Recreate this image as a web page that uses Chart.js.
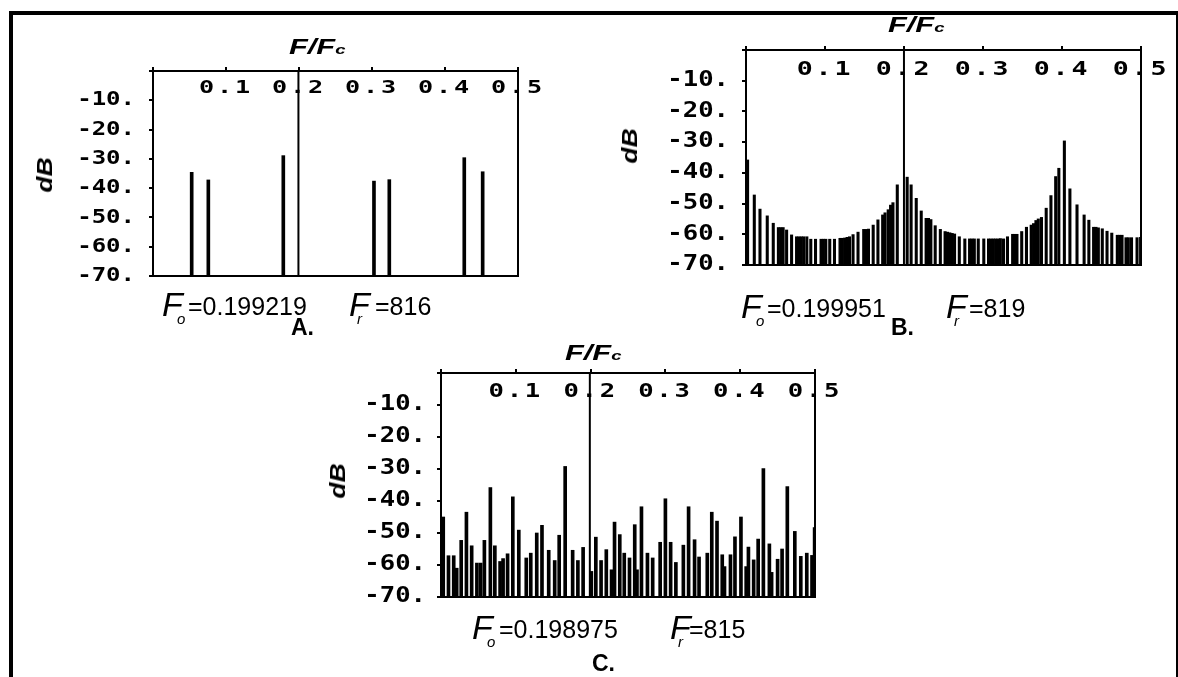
<!DOCTYPE html>
<html>
<head>
<meta charset="utf-8">
<script src="https://cdn.jsdelivr.net/npm/chart.js@4.4.1/dist/chart.umd.min.js"></script>
<style>
  body { margin: 0; background: #fff; }
  #page { position: relative; width: 1178px; height: 677px; overflow: hidden; background: #fff; }
  #page canvas { position: absolute; left: 0; top: 0; }
  .outer { position: absolute; left: 9px; top: 11px; width: 1163px; height: 700px;
           border-left: 4px solid #000; border-top: 4px solid #000; border-right: 3px solid #000; }
  .lab { position: absolute; font-family: "Liberation Sans", Arial, sans-serif; line-height: 1;
         white-space: nowrap; color: #000; }
  .F { font-style: italic; font-size: 34px; }
  .sb { font-style: italic; font-size: 15px; }
  .eq { font-size: 25px; }
  .ttl { font-weight: bold; font-style: italic; transform: scaleX(1.4); transform-origin: 0 0; }
  .ttl span { font-size: 0.6em; }
  .db { font-weight: bold; font-style: italic; font-size: 22px;
        transform: translate(-50%, -50%) rotate(-90deg) scaleX(1.2); }
  .pl { font-weight: bold; font-size: 23px; }
</style>
</head>
<body>
<div id="page">
  <div class="outer"></div>
  <canvas id="cA" width="1178" height="677"></canvas>
  <canvas id="cB" width="1178" height="677"></canvas>
  <canvas id="cC" width="1178" height="677"></canvas>

  <div class="lab ttl" style="left:289px;top:36px;font-size:22px">F/F<span>c</span></div>
  <div class="lab ttl" style="left:888px;top:14px;font-size:22px">F/F<span>c</span></div>
  <div class="lab ttl" style="left:565px;top:342px;font-size:22px">F/F<span>c</span></div>

  <div class="lab db" style="left:45px;top:175px">dB</div>
  <div class="lab db" style="left:630px;top:146px">dB</div>
  <div class="lab db" style="left:338px;top:481px">dB</div>

  <div class="lab F" style="left:162px;top:287px">F</div>
  <div class="lab sb" style="left:177px;top:311px">o</div>
  <div class="lab eq" style="left:188px;top:294px">=0.199219</div>
  <div class="lab F" style="left:349px;top:287px">F</div>
  <div class="lab sb" style="left:357px;top:311px">r</div>
  <div class="lab eq" style="left:375px;top:294px">=816</div>
  <div class="lab pl" style="left:291px;top:316px">A.</div>

  <div class="lab F" style="left:741px;top:289px">F</div>
  <div class="lab sb" style="left:756px;top:313px">o</div>
  <div class="lab eq" style="left:767px;top:296px">=0.199951</div>
  <div class="lab F" style="left:946px;top:289px">F</div>
  <div class="lab sb" style="left:954px;top:313px">r</div>
  <div class="lab eq" style="left:969px;top:296px">=819</div>
  <div class="lab pl" style="left:891px;top:316px">B.</div>

  <div class="lab F" style="left:472px;top:610px">F</div>
  <div class="lab sb" style="left:487px;top:634px">o</div>
  <div class="lab eq" style="left:499px;top:617px">=0.198975</div>
  <div class="lab F" style="left:670px;top:610px">F</div>
  <div class="lab sb" style="left:678px;top:634px">r</div>
  <div class="lab eq" style="left:689px;top:617px">=815</div>
  <div class="lab pl" style="left:592px;top:652px">C.</div>
</div>

<script>
// tick labels
const xTickLabels = ["", "0.1", "0.2", "0.3", "0.4", "0.5"];
const yTickLabels = ["-70.", "-60.", "-50.", "-40.", "-30.", "-20.", "-10.", ""];

// A.  F0 = 0.199219
const foA = 0.199219;
const freqA = [0.053, 0.0758, 0.1785, 0.3027, 0.3237, 0.4264, 0.4516];
const dbA = [-34.6, -37.2, -28.9, -37.6, -37.1, -29.6, -34.4];

// B.  F0 = 0.199951
const foB = 0.199951;
const freqB = [0.002, 0.0105, 0.0177, 0.0269, 0.0345, 0.041, 0.044, 0.047, 0.0514, 0.0577,
  0.064, 0.067, 0.070, 0.073, 0.077, 0.082, 0.088, 0.095, 0.098, 0.101,
  0.106, 0.112, 0.119, 0.122, 0.125, 0.128, 0.131, 0.1355, 0.1418, 0.149,
  0.152, 0.155, 0.161, 0.167, 0.173, 0.176, 0.180, 0.183, 0.186, 0.1915,
  0.204, 0.209, 0.2155, 0.2218, 0.228, 0.231, 0.234, 0.2395, 0.246, 0.252,
  0.255, 0.258, 0.261, 0.264, 0.270, 0.277, 0.283, 0.286, 0.289, 0.294,
  0.301, 0.307, 0.310, 0.313, 0.316, 0.319, 0.322, 0.326, 0.331, 0.3375,
  0.340, 0.343, 0.349, 0.355, 0.361, 0.364, 0.367, 0.370, 0.374, 0.380,
  0.386, 0.392, 0.396, 0.403, 0.410, 0.419, 0.428, 0.434, 0.440, 0.443,
  0.446, 0.451, 0.457, 0.463, 0.470, 0.473, 0.476, 0.481, 0.484, 0.488,
  0.495, 0.4995];
const dbB = [-35.8, -47.2, -51.8, -54.0, -56.4, -57.8, -57.8, -57.8, -58.6, -60.2,
  -60.8, -60.8, -60.8, -60.8, -60.8, -61.6, -61.6, -61.6, -61.6, -61.6,
  -61.6, -61.6, -61.3, -61.3, -61.2, -61.0, -60.8, -60.1, -59.3, -58.4,
  -58.4, -58.3, -57.0, -55.3, -53.7, -53.0, -52.0, -50.5, -49.7, -43.9,
  -41.4, -43.9, -48.3, -52.4, -54.8, -54.8, -55.2, -57.2, -58.4, -59.1,
  -59.3, -59.5, -59.7, -59.9, -60.8, -61.5, -61.5, -61.5, -61.5, -61.5,
  -61.5, -61.5, -61.5, -61.5, -61.5, -61.5, -61.4, -61.5, -60.8, -60.0,
  -60.0, -60.0, -59.1, -57.7, -57.0, -56.5, -55.5, -55.0, -54.5, -51.5,
  -47.4, -41.2, -38.5, -29.6, -45.2, -50.4, -53.7, -55.4, -57.7, -57.7,
  -57.9, -58.2, -59.0, -59.6, -60.3, -60.3, -60.3, -61.1, -61.1, -61.1,
  -61.1, -61.0];

// C.  F0 = 0.198975
const foC = 0.198975;
const freqC = [0.003, 0.010, 0.017, 0.021, 0.027, 0.034, 0.041, 0.048, 0.053, 0.058,
  0.066, 0.072, 0.079, 0.083, 0.089, 0.096, 0.104, 0.114, 0.120, 0.128,
  0.135, 0.144, 0.152, 0.158, 0.166, 0.176, 0.183, 0.190, 0.201, 0.207,
  0.214, 0.221, 0.228, 0.232, 0.239, 0.245, 0.252, 0.259, 0.262, 0.268,
  0.276, 0.283, 0.293, 0.300, 0.307, 0.314, 0.324, 0.331, 0.339, 0.345,
  0.356, 0.362, 0.369, 0.376, 0.379, 0.387, 0.393, 0.401, 0.408, 0.411,
  0.418, 0.424, 0.431, 0.439, 0.442, 0.450, 0.456, 0.463, 0.473, 0.481,
  0.489, 0.496, 0.4995];
const dbC = [-45.0, -57.1, -57.1, -61.0, -52.3, -43.5, -54.0, -59.4, -59.4, -52.3,
  -35.8, -54.0, -58.9, -58.0, -56.5, -38.7, -49.1, -57.8, -56.3, -50.0,
  -47.6, -55.4, -58.6, -50.7, -29.2, -55.4, -58.6, -54.5, -62.0, -51.3,
  -58.6, -55.2, -61.5, -46.6, -50.5, -56.3, -57.8, -47.4, -61.5, -41.8,
  -56.3, -57.8, -52.9, -39.3, -52.9, -59.2, -53.8, -41.8, -52.1, -57.5,
  -56.3, -43.5, -46.3, -56.8, -60.5, -56.8, -51.2, -45.0, -60.5, -54.4,
  -58.4, -51.9, -29.9, -53.4, -62.3, -58.2, -55.0, -35.5, -49.5, -57.3,
  -56.3, -57.0, -48.3];

const DB_FLOOR = -70;
const PAGE_W = 1178, PAGE_H = 677;
const MONO = '"DejaVu Sans Mono", "Liberation Mono", monospace';

// frame + tick labels, placed with the chart's own scales
const axisText = {
  id: "axisText",
  afterDraw(chart, args, o) {
    const ctx = chart.ctx;
    const a = chart.chartArea;
    const xs = chart.scales.x, ys = chart.scales.y;
    ctx.save();
    ctx.strokeStyle = "#000";
    ctx.lineWidth = 2;
    ctx.strokeRect(a.left, a.top, a.right - a.left, a.bottom - a.top);

    ctx.fillStyle = "#000";
    ctx.textBaseline = "middle";
    ctx.font = "bold " + o.yFont + "px " + MONO;
    ctx.textAlign = "right";
    ys.ticks.forEach(t => {
      const s = yTickLabels[Math.round((t.value - DB_FLOOR) / 10)];
      if (!s) return;
      ctx.save();
      ctx.translate(a.left - o.yGap, ys.getPixelForValue(t.value));
      ctx.scale(o.ySx, 1);
      ctx.fillText(s, 0, 0);
      ctx.restore();
    });

    ctx.font = "bold " + o.xFont + "px " + MONO;
    ctx.textAlign = "left";
    const cell = ctx.measureText("0").width + o.xLs;
    ctx.letterSpacing = o.xLs + "px";
    xs.ticks.forEach(t => {
      const s = xTickLabels[Math.round(t.value * 10)];
      if (!s) return;
      ctx.save();
      ctx.translate(xs.getPixelForValue(t.value), a.top + o.xDy);
      ctx.scale(o.xSx, 1);
      ctx.fillText(s, -cell * s.length / 2, 0);
      ctx.restore();
    });
    ctx.restore();
  }
};

function makePanel(id, freq, db, fo, st) {
  const box = st.box;
  new Chart(document.getElementById(id), {
    type: "bar",
    data: {
      datasets: [{
        type: "line",
        data: [{ x: fo, y: DB_FLOOR }, { x: fo, y: 0 }],
        borderColor: "#000",
        borderWidth: 2,
        pointRadius: 0,
        fill: false
      }, {
        type: "bar",
        data: freq.map((f, i) => ({ x: f, y: [DB_FLOOR, db[i]] })),
        backgroundColor: "#000",
        borderWidth: 0,
        barThickness: st.bar
      }]
    },
    options: {
      responsive: false,
      animation: false,
      events: [],
      layout: {
        padding: { left: box.l - 4, top: box.t - 4, right: PAGE_W - box.r, bottom: PAGE_H - box.b }
      },
      plugins: {
        legend: { display: false },
        tooltip: { enabled: false },
        axisText: st.text
      },
      scales: {
        x: {
          type: "linear",
          position: "top",
          min: 0,
          max: 0.5,
          offset: false,
          ticks: { stepSize: 0.1, display: false },
          grid: { offset: false, drawOnChartArea: false, drawTicks: true, tickLength: 4, color: "#000", lineWidth: 2 },
          border: { display: false },
          afterFit(s) { s.height = 4; s.paddingLeft = 0; s.paddingRight = 0; }
        },
        y: {
          min: DB_FLOOR,
          max: 0,
          ticks: { stepSize: 10, display: false },
          grid: { drawOnChartArea: false, drawTicks: true, tickLength: 4, color: "#000", lineWidth: 2 },
          border: { display: false },
          afterFit(s) { s.width = 4; s.paddingTop = 0; s.paddingBottom = 0; }
        }
      }
    },
    plugins: [axisText]
  });
}

makePanel("cA", freqA, dbA, foA, {
  box: { l: 153, t: 71, r: 518, b: 276 }, bar: 3,
  text: { yFont: 20, ySx: 1.2, yGap: 18, xFont: 18, xSx: 1.4, xLs: 2, xDy: 17 }
});
makePanel("cB", freqB, dbB, foB, {
  box: { l: 746, t: 50, r: 1141, b: 265 }, bar: 2.4,
  text: { yFont: 20.5, ySx: 1.25, yGap: 17, xFont: 19, xSx: 1.4, xLs: 2, xDy: 20 }
});
makePanel("cC", freqC, dbC, foC, {
  box: { l: 441, t: 373, r: 815, b: 597 }, bar: 3,
  text: { yFont: 20.5, ySx: 1.25, yGap: 15, xFont: 19, xSx: 1.35, xLs: 2, xDy: 19 }
});
</script>
</body>
</html>
